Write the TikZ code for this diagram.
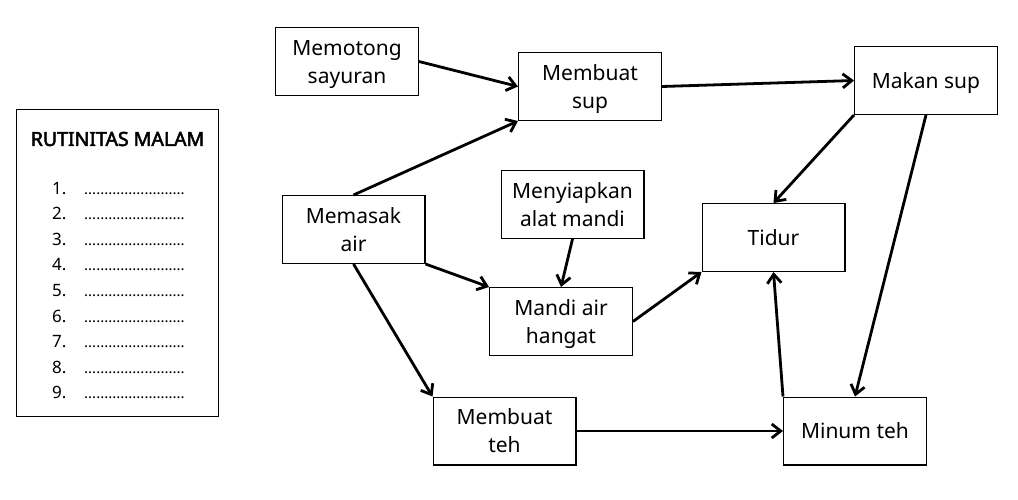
\documentclass[tikz,border=0pt]{standalone}
\usepackage{fontspec}
\setmainfont{Noto Sans}[BoldFont={Noto Sans},BoldFeatures={FakeBold=2.5}]
\usetikzlibrary{arrows.meta}
\begin{document}
\begin{tikzpicture}[x=1pt,y=-1pt,
  stepbox/.style={draw, line width=1.4pt, minimum width=142.6pt, minimum height=67.6pt, inner sep=0pt, text depth=0pt, align=center, font=\fontsize{21}{28}\selectfont},
  flow/.style={line width=2.8pt, -{Straight Barb[length=9pt,width=14pt]}},
  listbox/.style={draw, line width=1.4pt, minimum width=201.6pt, minimum height=306.6pt, inner sep=0pt},
  listnum/.style={anchor=base west, inner sep=0pt, font=\fontsize{17}{20}\selectfont},
  listdots/.style={anchor=base west, inner sep=0pt, font=\fontsize{15}{18}\selectfont},
]
\fill[white] (0,0) rectangle (1018,499);
\useasboundingbox (0,0) rectangle (1018,499);

% list panel
\node[listbox] (panel) at (117.5,263) {};
\node[inner sep=0pt, font=\fontsize{19.5}{23}\selectfont\bfseries] (title) at (117.5,139) {RUTINITAS MALAM};
\foreach \i in {1,...,9} {
  \node[listnum] (n\i) at (52,{194+25.6*(\i-1)}) {\i.};
  \node[listdots] (d\i) at (84,{194+25.6*(\i-1)}) {.........................};
}

% steps
\node[stepbox] (memotong) at (347,61.5) {Memotong\\sayuran};
\node[stepbox] (membuatsup) at (590,86.5) {Membuat\\sup};
\node[stepbox] (makansup) at (926,80.5) {Makan sup};
\node[stepbox] (memasak) at (353.5,229.5) {Memasak\\air};
\node[stepbox] (menyiapkan) at (572.5,204.5) {Menyiapkan\\alat mandi};
\node[stepbox] (tidur) at (773.5,237.5) {Tidur};
\node[stepbox] (mandi) at (561,321.5) {Mandi air\\hangat};
\node[stepbox] (membuatteh) at (504.5,431) {Membuat\\teh};
\node[stepbox] (minumteh) at (855,431) {Minum teh};

% connectors
\draw[flow] (memotong.east) -- (membuatsup.west);
\draw[flow] (memasak.north) -- (membuatsup.south west);
\draw[flow] (membuatsup.east) -- (makansup.west);
\draw[flow] (makansup.south west) -- (tidur.north);
\draw[flow] (makansup.south) -- (minumteh.north);
\draw[flow] (memasak.south east) -- (mandi.north west);
\draw[flow] (memasak.south) -- (membuatteh.north west);
\draw[flow] (menyiapkan.south) -- (mandi.north);
\draw[flow] (mandi.east) -- (tidur.south west);
\draw[flow] (membuatteh.east) -- (minumteh.west);
\draw[flow] (minumteh.north west) -- (tidur.south);
\end{tikzpicture}
\end{document}
